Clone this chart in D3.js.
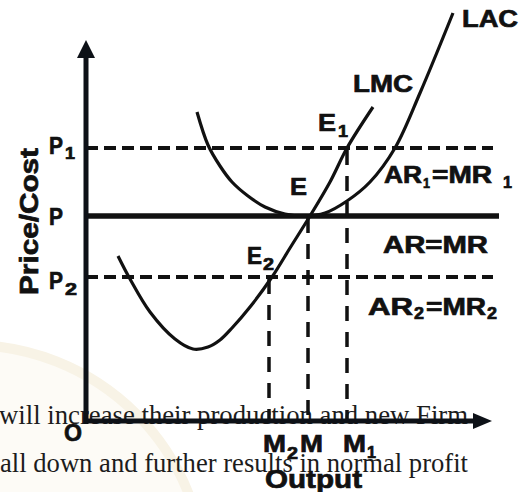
<html>
<head>
    <script src="https://d3js.org/d3.v7.min.js"></script>
    <style>
        body { margin: 0; background: #fff; }
        .lbl { font-family: "Liberation Sans", Arial, sans-serif; font-weight: bold; fill: #111; stroke: #111; stroke-width: 0.7px; }
        .bgtext { font-family: "Liberation Serif", "DejaVu Serif", serif; fill: #1c1c1c; }
    </style>
</head>
<body>
<svg id="chart" width="530" height="492"></svg>
<script>
    // price levels (P1, P, P2) and output levels (M2, M, M1)
    const priceNames = ["P1", "P", "P2"];
    const priceLevels = [68.25, 51.25, 36];
    const qtyNames = ["M2", "M", "M1"];
    const qtyLevels = [45.75, 55.5, 65.25];

    // long run average cost curve
    const lacX = [27.75, 30.5, 33.5, 36.5, 40.5, 44.75, 49.75, 54.75, 59.75, 65.25, 71, 77.25, 83.5, 91.75];
    const lacY = [77.25, 69, 63.75, 59.75, 56.25, 53.5, 51.75, 51.25, 52, 55, 59.75, 68.25, 82, 102];

    // long run marginal cost curve
    const lmcX = [8, 11, 16, 22.25, 26.75, 30.5, 33.5, 36.5, 41, 46.5, 51, 56, 61, 65.25, 71.75];
    const lmcY = [41.25, 35.5, 27.25, 20.5, 18, 18.5, 20.25, 23.25, 28.5, 36, 43.25, 51.25, 59.75, 68.25, 78.5];

    const svg = d3.select("#chart");
    const x = d3.scaleLinear().domain([0, 100]).range([86, 486]);
    const y = d3.scaleLinear().domain([0, 100]).range([421, 21]);

    // faint watermark from the scanned page
    svg.append("circle").attr("cx", -30).attr("cy", 580).attr("r", 235)
        .attr("fill", "#fdfbf6").attr("stroke", "#f8f3e6").attr("stroke-width", 10);

    // page text behind the figure
    svg.append("text").attr("class", "bgtext").attr("x", -1).attr("y", 424)
        .attr("font-size", 26.5).attr("textLength", 469).attr("lengthAdjust", "spacingAndGlyphs")
        .text("will increase their production and new Firm");
    svg.append("text").attr("class", "bgtext").attr("x", 0).attr("y", 472)
        .attr("font-size", 26.5).attr("textLength", 468).attr("lengthAdjust", "spacingAndGlyphs")
        .text("all down and further results in normal profit");

    const g = svg.append("g");

    function label(txt, x0, yb, size, w) {
        const t = g.append("text").attr("class", "lbl")
            .attr("x", x0).attr("y", yb).attr("font-size", size).text(txt);
        if (w) t.attr("textLength", w).attr("lengthAdjust", "spacingAndGlyphs");
        return t;
    }

    // horizontal price lines
    priceLevels.forEach((p, i) => {
        const solid = priceNames[i] === "P";
        g.append("line")
            .attr("x1", x(0)).attr("x2", solid ? 499 : 493)
            .attr("y1", y(p)).attr("y2", y(p))
            .attr("stroke", "#111")
            .attr("stroke-width", solid ? 5.5 : 4)
            .attr("stroke-dasharray", solid ? null : "12,6");
    });

    // vertical output lines
    qtyLevels.forEach((q, i) => {
        g.append("line")
            .attr("x1", x(q)).attr("x2", x(q))
            .attr("y1", y(priceLevels[2 - i]) + 2).attr("y2", y(0))
            .attr("stroke", "#111").attr("stroke-width", 3.5)
            .attr("stroke-dasharray", "15,11");
    });

    const line = d3.line().x(d => x(d[0])).y(d => y(d[1])).curve(d3.curveCatmullRom);

    g.append("path").datum(d3.zip(lacX, lacY))
        .attr("d", line).attr("fill", "none").attr("stroke", "#111").attr("stroke-width", 3.2);
    g.append("path").datum(d3.zip(lmcX, lmcY))
        .attr("d", line).attr("fill", "none").attr("stroke", "#111").attr("stroke-width", 3.2);

    // axes with arrow heads
    g.append("line").attr("x1", x(0)).attr("x2", x(0)).attr("y1", y(0) + 3).attr("y2", 56)
        .attr("stroke", "#0d1117").attr("stroke-width", 5);
    g.append("path").attr("d", `M${x(0)},40 L${x(0) - 9},58 L${x(0) + 9},58 Z`).attr("fill", "#0d1117");
    g.append("line").attr("x1", x(0) - 2).attr("x2", 476).attr("y1", y(0)).attr("y2", y(0))
        .attr("stroke", "#0d1117").attr("stroke-width", 5);
    g.append("path").attr("d", `M492,${y(0)} L473,${y(0) - 8} L473,${y(0) + 8} Z`).attr("fill", "#0d1117");

    // curve labels
    label("LAC", 462, 27, 24, 56);
    label("LMC", 353, 92, 24, 60);

    // equilibrium points
    label("E", 318, 131, 24, 18);
    label("1", 338, 137, 16, 10);
    label("E", 290, 195, 24, 17);
    label("E", 247, 264, 24, 15);
    label("2", 263, 270, 16, 11);

    // revenue lines
    label("AR", 384, 183, 23, 38);
    label("1", 423, 188, 15, 7);
    label("=MR", 432, 183, 23, 60);
    label("1", 503, 188, 16, 9);
    label("AR=MR", 383, 253, 24, 105);
    label("AR", 368, 315, 24, 45);
    label("2", 414, 319, 16, 10);
    label("=MR", 426, 315, 24, 60);
    label("2", 487, 319, 16, 10);

    // price labels
    label("P", 49, y(priceLevels[0]) + 6, 24, 14);
    label("1", 65, y(priceLevels[0]) + 11, 16, 10);
    label("P", 49, y(priceLevels[1]) + 9, 24, 14);
    label("P", 49, y(priceLevels[2]) + 12, 24, 14);
    label("2", 65, y(priceLevels[2]) + 18, 16, 12);

    // output labels
    label("O", 64, 441, 24, 18);
    label("M", x(qtyLevels[0]) - 6, 452, 24, 23);
    label("2", x(qtyLevels[0]) + 18, 459, 16, 11);
    label("M", x(qtyLevels[1]) - 8, 452, 24, 23);
    label("M", x(qtyLevels[2]) - 4, 452, 24, 23);
    label("1", x(qtyLevels[2]) + 20, 458, 16, 9);

    // axis titles
    label("Output", 265, 488, 25, 97);
    label("Price/Cost", 0, 0, 25, 147)
        .attr("transform", "translate(38,295) rotate(-90)");
</script>
</body>
</html>
